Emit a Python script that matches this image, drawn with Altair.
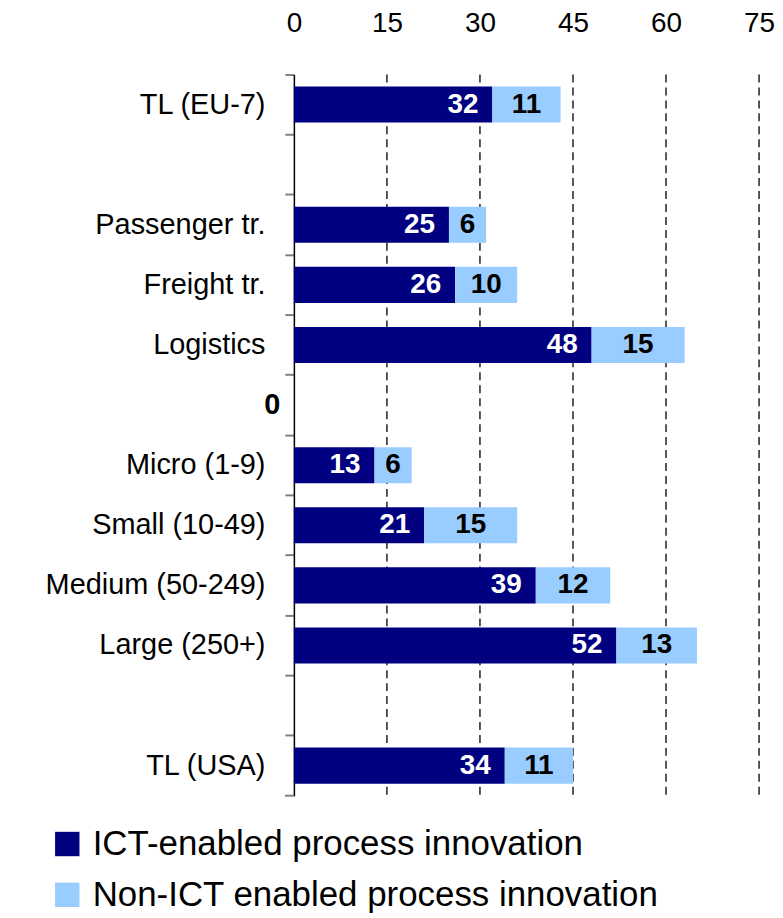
import altair as alt
import pandas as pd

# ---- data -------------------------------------------------------------
categories = ["TL (EU-7)", " ", "Passenger tr.", "Freight tr.", "Logistics", "0",
              "Micro (1-9)", "Small (10-49)", "Medium (50-249)", "Large (250+)", "  ", "TL (USA)"]
bar_categories = ["TL (EU-7)", "Passenger tr.", "Freight tr.", "Logistics",
                  "Micro (1-9)", "Small (10-49)", "Medium (50-249)", "Large (250+)", "TL (USA)"]
ict_values = [32, 25, 26, 48, 13, 21, 39, 52, 34]
non_ict_values = [11, 6, 10, 15, 6, 15, 12, 13, 11]
series_names = ["ICT-enabled process innovation", "Non-ICT enabled process innovation"]
series_colors = ["#000080", "#99CCFF"]
x_ticks = [0, 15, 30, 45, 60, 75]
grid_values = [15, 30, 45, 60, 75]

FONT = "Liberation Sans"
W, H = 467, 724

long_rows = []
for c, a, b in zip(bar_categories, ict_values, non_ict_values):
    long_rows.append({"cat": c, "series": series_names[0], "value": a, "ord": 0})
    long_rows.append({"cat": c, "series": series_names[1], "value": b, "ord": 1})
long_df = pd.DataFrame(long_rows)

wide_df = pd.DataFrame({"cat": bar_categories, "ict": ict_values, "non": non_ict_values})
grid_df = pd.DataFrame({"value": grid_values})

y_axis = alt.Axis(
    title=None, bandPosition=0, grid=False,
    domainColor="black", domainWidth=1.5,
    tickColor="#808080", tickWidth=2, tickSize=9,
    labelFont=FONT, labelFontSize=29, labelColor="black", labelLimit=0,
    labelPadding={"condition": {"test": "datum.value === '0'", "value": 5}, "value": 20},
    labelFontWeight={"condition": {"test": "datum.value === '0'", "value": "bold"}, "value": "normal"},
)
y_scale = alt.Scale(domain=categories, paddingInner=0, paddingOuter=0)

x_scale = alt.Scale(domain=[0, 75], nice=False, zero=True)
x_axis = alt.Axis(
    orient="top", values=x_ticks, title=None, domain=False, ticks=False,
    labelFont=FONT, labelFontSize=28, labelColor="black", labelPadding=37,
    labelFlush=False, labelOverlap=False, grid=False,
)

# dashed vertical gridlines (drawn beneath the bars)
grid = alt.Chart(grid_df).mark_rule(
    color="#222222", strokeWidth=1.5, strokeDash=[8, 5]
).encode(
    x=alt.X("value:Q", scale=x_scale, axis=x_axis),
    y=alt.value(0), y2=alt.value(H),
)

bars = alt.Chart(long_df).mark_bar(height={"band": 0.6}).encode(
    x=alt.X("value:Q", stack="zero", scale=x_scale, axis=x_axis),
    y=alt.Y("cat:N", scale=y_scale, axis=y_axis),
    color=alt.Color(
        "series:N",
        scale=alt.Scale(domain=series_names, range=series_colors),
        legend=alt.Legend(
            orient="none", legendX=-245, legendY=755, direction="vertical", title=None,
            symbolType="square", symbolSize=600, symbolStrokeWidth=0, symbolOpacity=1,
            labelFont=FONT, labelFontSize=35, labelColor="black", labelOffset=8,
            rowPadding=15, labelLimit=800,
        ),
    ),
    order=alt.Order("ord:Q"),
)

ict_text = alt.Chart(wide_df).mark_text(
    align="right", baseline="middle", dx=-14, color="white",
    font=FONT, fontWeight="bold", fontSize=28,
).encode(
    x=alt.X("ict:Q"),
    y=alt.Y("cat:N"),
    text=alt.Text("ict:Q"),
)

non_text = alt.Chart(wide_df).transform_calculate(
    mid="datum.ict + datum.non / 2"
).mark_text(
    align="center", baseline="middle", color="black",
    font=FONT, fontWeight="bold", fontSize=28,
).encode(
    x=alt.X("mid:Q"),
    y=alt.Y("cat:N"),
    text=alt.Text("non:Q"),
)

# closing tick at the bottom end of the category axis
end_tick = alt.Chart(pd.DataFrame({"k": [0]})).mark_rule(
    color="#808080", strokeWidth=2
).encode(
    x=alt.value(-9), x2=alt.value(0), y=alt.value(H)
)

chart = alt.layer(grid, bars, ict_text, non_text, end_tick).properties(
    width=W, height=H,
    autosize=alt.AutoSizeParams(type="none"),
    padding={"left": 287, "top": 65, "right": 16, "bottom": 121},
).configure_view(stroke=None)

chart.save("out.html", embed_options={"renderer": "svg", "actions": False})
